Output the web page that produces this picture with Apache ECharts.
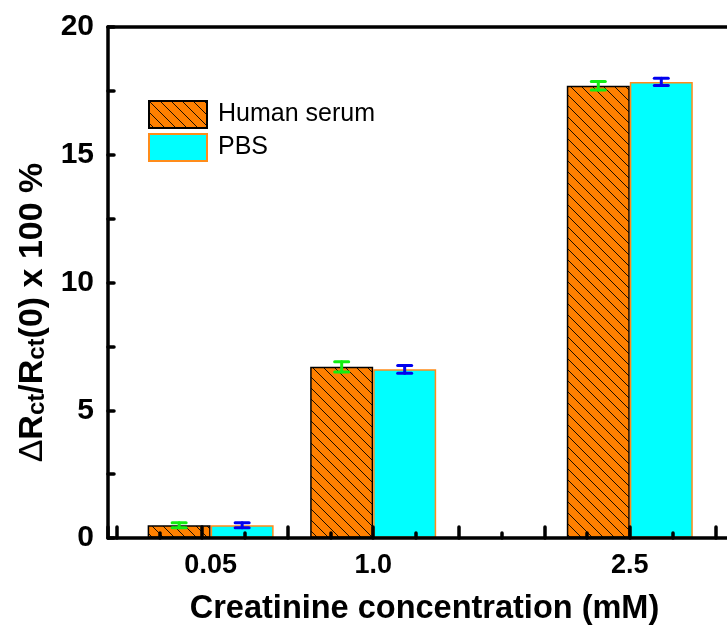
<!DOCTYPE html>
<html><head><meta charset="utf-8">
<script src="https://cdn.jsdelivr.net/npm/echarts@6/dist/echarts.min.js"></script>
<style>html,body{margin:0;padding:0;background:#fff}#c{width:727px;height:625px}</style>
</head><body><div id="c"></div>
<script>
// ---- data ----
const concentrations = [0.05, 1.0, 2.5];
const concLabels = ['0.05', '1.0', '2.5'];
const serumValues = [0.5, 6.7, 17.7];
const serumErrors = [0.1, 0.2, 0.17];
const pbsValues = [0.5, 6.6, 17.85];
const pbsErrors = [0.1, 0.15, 0.14];
const seriesNames = ['Human serum', 'PBS'];

// ---- hatch pattern ----
function hatch() {
  const s = 11;
  const c = document.createElement('canvas');
  c.width = s; c.height = s;
  const g = c.getContext('2d');
  g.fillStyle = '#FF8000'; g.fillRect(0, 0, s, s);
  g.strokeStyle = '#1a0d00'; g.lineWidth = 1;
  for (const k of [-s, 0, s]) {
    g.beginPath(); g.moveTo(k, 0); g.lineTo(k + s, s); g.stroke();
  }
  return c;
}
const hatchFill = { image: hatch(), repeat: 'repeat' };

const serumData = concentrations.map((x, i) => [x, serumValues[i]]);
const pbsData = concentrations.map((x, i) => [x, pbsValues[i]]);
const serumErr = concentrations.map((x, i) => [x, serumValues[i], serumErrors[i]]);
const pbsErr = concentrations.map((x, i) => [x, pbsValues[i], pbsErrors[i]]);

const BAR_W = 63;
function errRender(offset, color) {
  return function (params, api) {
    const x = api.value(0), y = api.value(1), e = api.value(2);
    const top = api.coord([x, y + e]);
    const bot = api.coord([x, y - e]);
    const cx = top[0] + offset, hw = 7;
    const st = { stroke: color, lineWidth: 3, lineCap: 'round' };
    return { type: 'group', children: [
      { type: 'line', shape: { x1: cx, y1: top[1], x2: cx, y2: bot[1] }, style: st },
      { type: 'line', shape: { x1: cx - hw, y1: top[1], x2: cx + hw, y2: top[1] }, style: st },
      { type: 'line', shape: { x1: cx - hw, y1: bot[1], x2: cx + hw, y2: bot[1] }, style: st }
    ]};
  };
}

const chart = echarts.init(document.getElementById('c'), null, { renderer: 'canvas' });
const axisLine = { show: true, onZero: false, lineStyle: { color: '#000', width: 3.5 } };
const tickStyle = { color: '#000', width: 3.5, cap: 'round' };
chart.setOption({
  animation: false,
  textStyle: { fontFamily: 'Liberation Sans', color: '#000' },
  grid: { left: 108, right: -14, top: 27, bottom: 87, outerBoundsMode: 'none', containLabel: false, show: false },
  legend: {
    orient: 'vertical', left: 148, top: 100, padding: 0, itemWidth: 58, itemHeight: 27, itemGap: 4,
    icon: 'rect',
    data: seriesNames,
    textStyle: { fontSize: 25, lineHeight: 27, color: '#000', padding: [0, 0, 0, 6] }
  },
  xAxis: [{
    type: 'value', min: -0.55, max: 3.15, splitNumber: 7, position: 'bottom',
    name: 'Creatinine concentration (mM)', nameLocation: 'middle', nameGap: 55,
    nameTextStyle: { fontSize: 32.5, fontWeight: 'bold', color: '#000' },
    axisLine: axisLine,
    splitLine: { show: false },
    axisTick: { show: true, inside: true, length: 11, lineStyle: tickStyle },
    minorTick: { show: true, splitNumber: 2, length: 5, lineStyle: tickStyle },
    axisLabel: { customValues: concentrations, margin: 14, fontSize: 27, fontWeight: 'bold', color: '#000',
      formatter: v => { let bi = 0; concentrations.forEach((c, i) => { if (Math.abs(c - v) < Math.abs(concentrations[bi] - v)) bi = i; }); return concLabels[bi]; } }
  }, {
    type: 'value', min: -0.55, max: 3.15, position: 'top',
    axisLine: axisLine, axisTick: { show: false }, axisLabel: { show: false }, splitLine: { show: false }
  }],
  yAxis: {
    type: 'value', min: 0, max: 20, interval: 5,
    name: '{d|Δ}{b|R}{s|ct}{b|/R}{s|ct}{b|(0) x 100 %}', nameLocation: 'middle', nameGap: 47, nameRotate: 90,
    nameTextStyle: {
      padding: [0, 60, 0, 0],
      rich: {
        d: { fontSize: 34, lineHeight: 38, verticalAlign: 'bottom', color: '#000', fontFamily: 'Liberation Sans' },
        b: { fontSize: 34, fontWeight: 'bold', lineHeight: 38, verticalAlign: 'bottom', color: '#000', fontFamily: 'Liberation Sans' },
        s: { fontSize: 24, fontWeight: 'bold', lineHeight: 14, verticalAlign: 'bottom', color: '#000', fontFamily: 'Liberation Sans' }
      }
    },
    axisLine: axisLine,
    splitLine: { show: false },
    axisTick: { show: true, inside: true, length: 6, lineStyle: tickStyle },
    minorTick: { show: true, splitNumber: 2, length: 6, lineStyle: tickStyle },
    axisLabel: { margin: 14, fontSize: 30, fontWeight: 'bold', color: '#000' }
  },
  series: [
    { name: seriesNames[0], type: 'bar', data: serumData, barWidth: BAR_W, barGap: '0%', z: -1,
      itemStyle: { color: hatchFill, borderColor: '#000', borderWidth: 1.5 } },
    { name: seriesNames[1], type: 'bar', data: pbsData, barWidth: BAR_W, barGap: '0%', z: -1,
      itemStyle: { color: '#00FFFF', borderColor: '#FF8C1A', borderWidth: 1.5 } },
    { name: 'serumErr', type: 'custom', data: serumErr, encode: { x: 0, y: 1 }, z: 6,
      renderItem: errRender(-BAR_W / 2, '#11EE11') },
    { name: 'pbsErr', type: 'custom', data: pbsErr, encode: { x: 0, y: 1 }, z: 6,
      renderItem: errRender(BAR_W / 2, '#0000EE') }
  ]
});
</script></body></html>
